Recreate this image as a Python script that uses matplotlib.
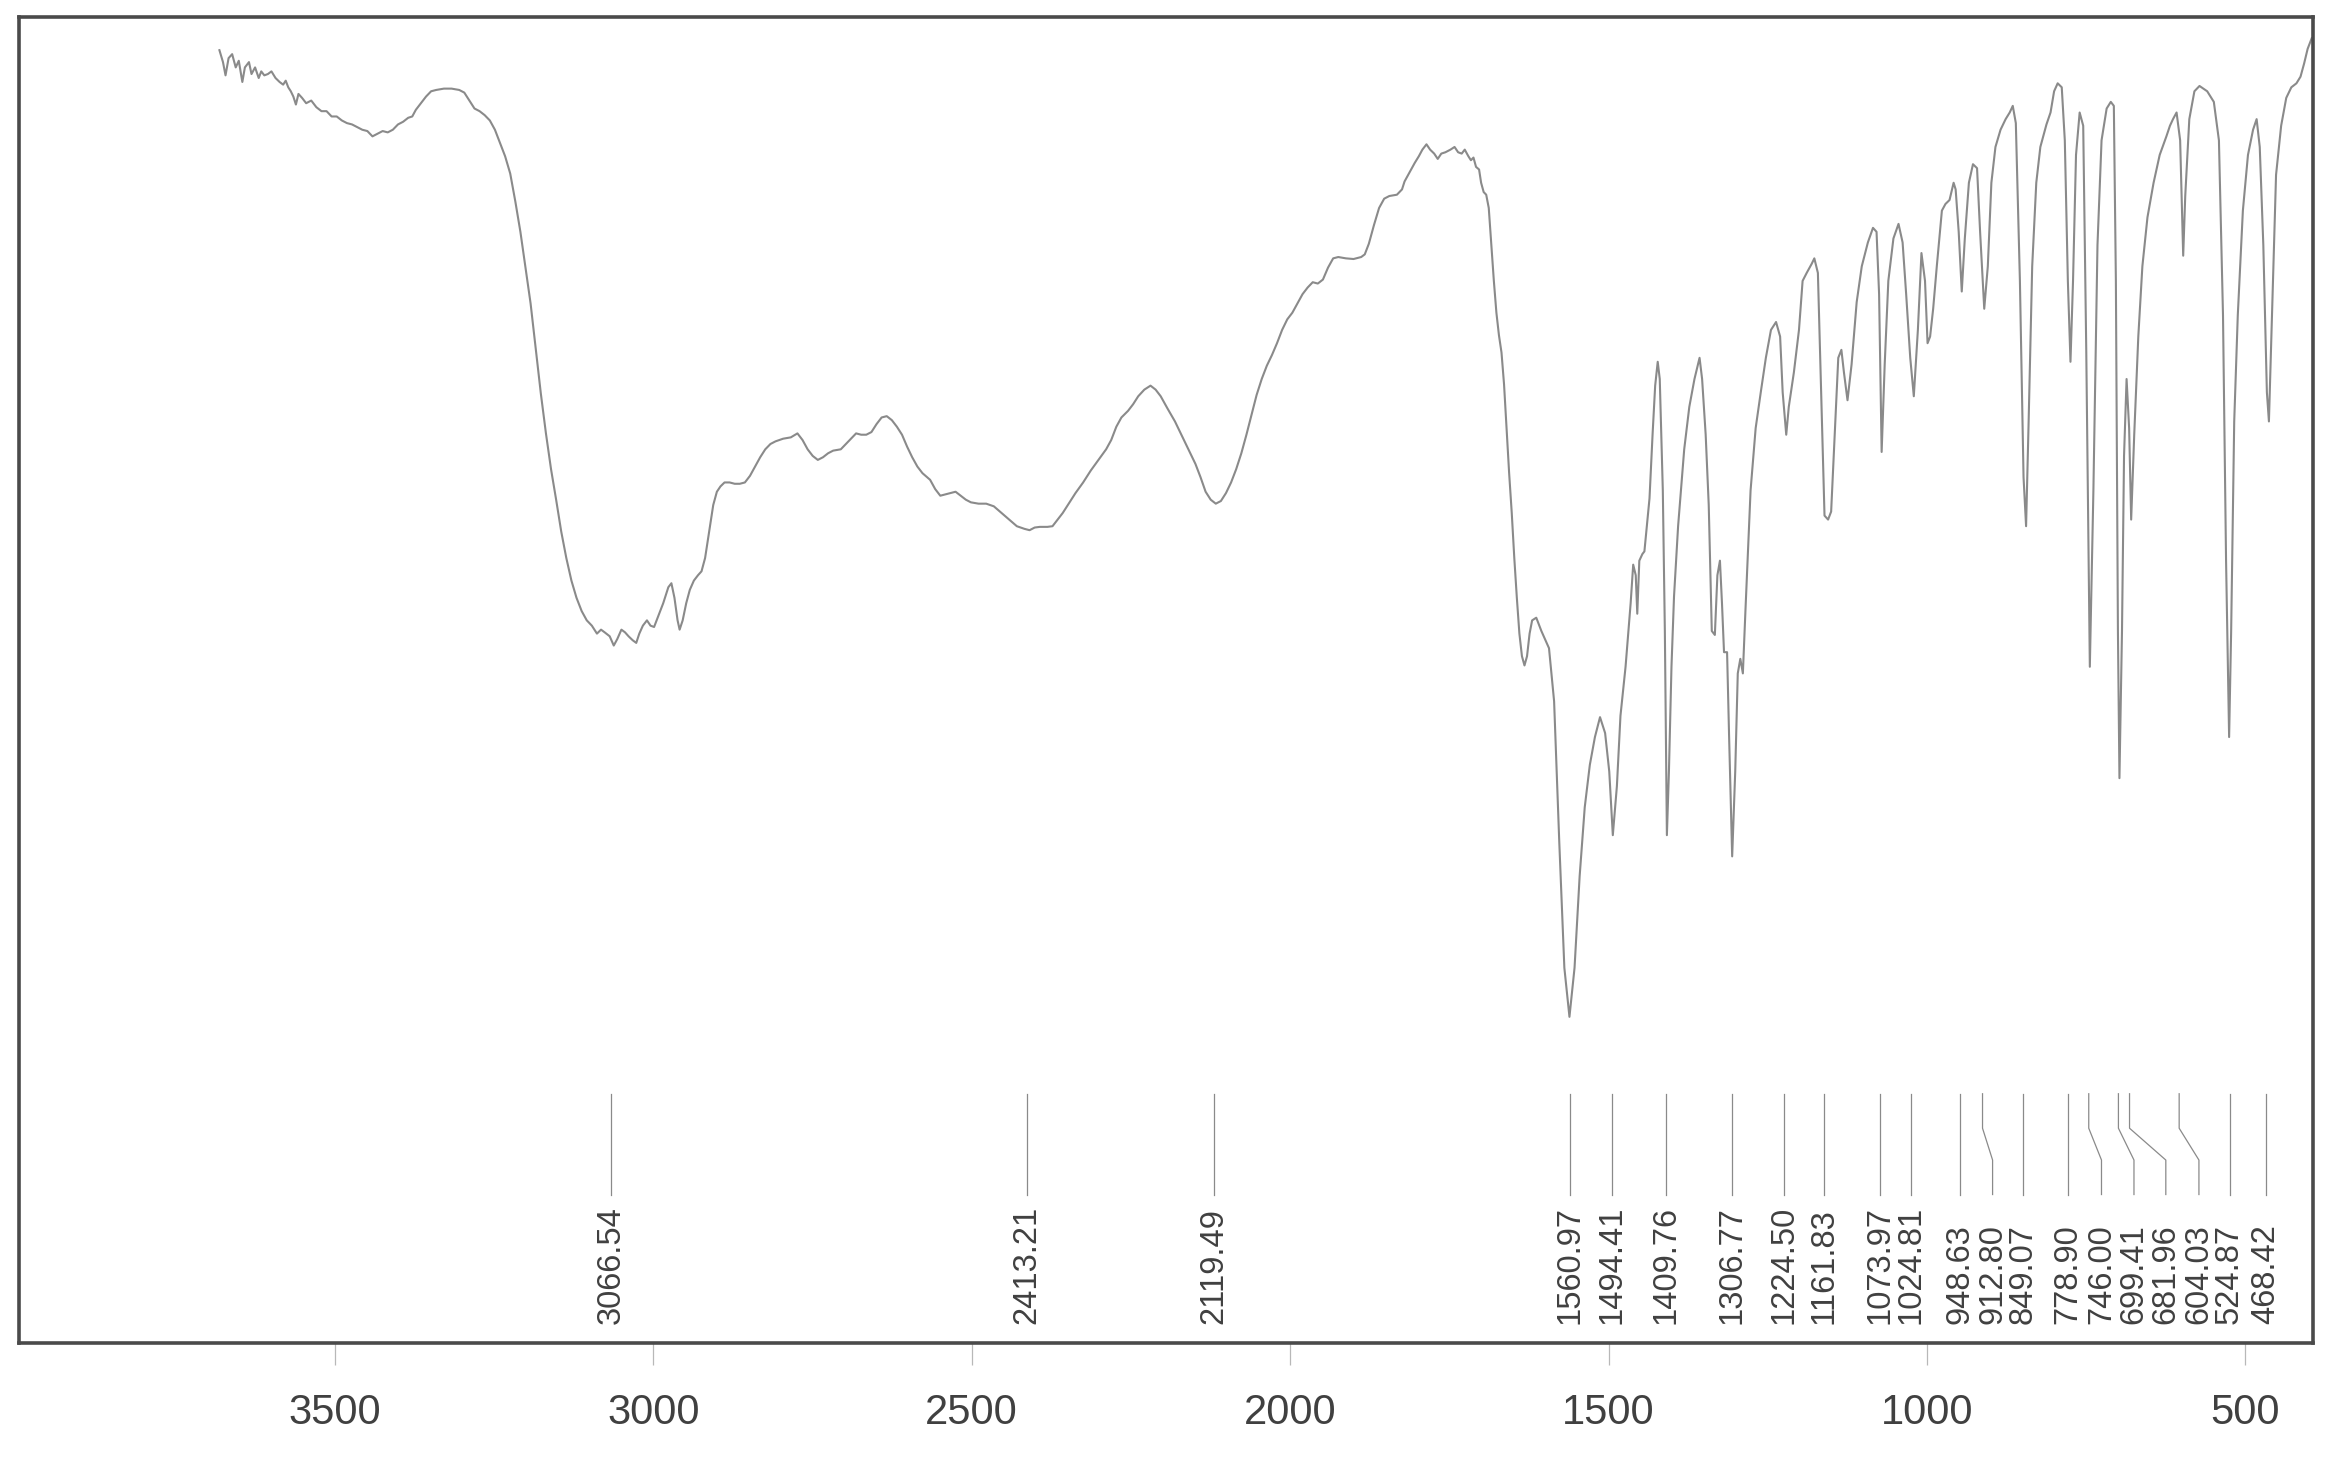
"""FT-IR spectrum with picked peaks, redrawn from a scanned instrument printout."""
import matplotlib
matplotlib.use("Agg")
import matplotlib.pyplot as plt

# wavenumber (cm-1) and transmittance (arbitrary %, 0 = frame bottom, 100 = frame top)
wavenumber = [
    3681.2, 3675.6, 3671.6, 3666.8, 3661.2, 3655.6, 3650.8, 3645.2, 3641.2, 3634.8,
    3630.8, 3625.2, 3619.5, 3615.5, 3610.7, 3605.1, 3599.5, 3593.1, 3586.7, 3581.1,
    3577.1, 3573.1, 3569.1, 3565.1, 3561.1, 3557.1, 3551.4, 3545.0, 3537.0, 3529.0,
    3521.0, 3513.0, 3505.0, 3497.0, 3489.0, 3481.0, 3473.0, 3464.9, 3456.9, 3448.9,
    3440.9, 3432.9, 3424.9, 3416.9, 3408.9, 3400.8, 3392.8, 3384.8, 3378.4, 3372.8,
    3364.8, 3356.8, 3348.8, 3340.8, 3328.7, 3316.7, 3304.7, 3296.7, 3288.7, 3280.7,
    3272.7, 3264.7, 3256.6, 3248.6, 3240.6, 3232.6, 3224.6, 3216.6, 3208.6, 3200.6,
    3192.6, 3184.5, 3176.5, 3168.5, 3160.5, 3152.5, 3144.5, 3136.5, 3128.5, 3120.5,
    3112.4, 3104.4, 3096.4, 3088.4, 3082.0, 3076.4, 3068.4, 3062.0, 3056.4, 3050.0,
    3044.4, 3038.8, 3032.3, 3026.7, 3021.9, 3016.3, 3009.9, 3004.3, 2998.7, 2992.3,
    2984.3, 2976.3, 2971.5, 2966.7, 2961.8, 2958.6, 2953.8, 2948.2, 2942.6, 2936.2,
    2929.8, 2924.2, 2918.6, 2912.2, 2905.8, 2900.1, 2894.5, 2888.1, 2880.1, 2872.1,
    2864.1, 2856.1, 2848.1, 2840.1, 2832.1, 2824.1, 2816.0, 2808.0, 2796.0, 2784.0,
    2773.6, 2765.6, 2757.6, 2749.6, 2741.6, 2733.5, 2725.5, 2717.5, 2705.5, 2697.5,
    2689.5, 2681.5, 2673.5, 2665.5, 2657.4, 2649.4, 2641.4, 2633.4, 2625.4, 2617.4,
    2609.4, 2601.4, 2593.4, 2585.3, 2577.3, 2565.3, 2557.3, 2549.3, 2541.3, 2533.3,
    2525.3, 2517.2, 2509.2, 2501.2, 2489.2, 2477.2, 2465.2, 2453.2, 2441.1, 2429.1,
    2417.1, 2409.1, 2401.1, 2393.1, 2381.1, 2373.1, 2365.0, 2357.0, 2349.0, 2337.0,
    2325.0, 2313.0, 2300.9, 2288.9, 2280.9, 2272.9, 2264.9, 2254.5, 2246.5, 2238.5,
    2228.9, 2219.2, 2211.2, 2203.2, 2192.8, 2180.8, 2168.8, 2156.7, 2148.7, 2140.7,
    2132.7, 2124.7, 2116.7, 2108.7, 2100.7, 2092.7, 2084.7, 2076.6, 2068.6, 2060.6,
    2052.6, 2044.6, 2036.6, 2028.6, 2020.6, 2012.6, 2004.5, 1996.5, 1988.5, 1980.5,
    1972.5, 1964.5, 1956.5, 1948.5, 1940.5, 1932.4, 1924.4, 1912.4, 1900.4, 1888.4,
    1882.8, 1876.4, 1868.4, 1860.3, 1852.3, 1844.3, 1832.3, 1824.3, 1820.3, 1812.3,
    1804.3, 1797.9, 1792.3, 1785.9, 1780.2, 1773.8, 1768.2, 1762.6, 1756.2, 1748.2,
    1741.8, 1736.2, 1730.6, 1725.8, 1720.1, 1716.1, 1712.1, 1708.1, 1703.3, 1700.1,
    1696.1, 1692.1, 1688.1, 1684.1, 1680.1, 1676.1, 1672.1, 1668.1, 1664.1, 1660.1,
    1656.1, 1652.0, 1648.0, 1644.0, 1640.0, 1636.0, 1632.0, 1628.0, 1624.0, 1620.0,
    1613.5, 1605.5, 1593.5, 1585.5, 1577.4, 1569.4, 1561.4, 1553.4, 1545.4, 1537.4,
    1529.4, 1521.4, 1513.4, 1505.4, 1498.9, 1493.3, 1486.9, 1481.3, 1473.3, 1465.3,
    1461.3, 1457.3, 1454.9, 1451.7, 1446.9, 1443.7, 1438.9, 1435.7, 1430.9, 1426.8,
    1422.8, 1419.6, 1414.8, 1411.6, 1408.4, 1405.2, 1401.2, 1397.2, 1390.8, 1381.2,
    1373.2, 1365.1, 1357.1, 1353.1, 1347.5, 1342.7, 1337.9, 1333.1, 1329.1, 1325.1,
    1321.9, 1318.7, 1313.9, 1310.7, 1305.9, 1301.1, 1297.1, 1293.1, 1289.1, 1285.0,
    1277.0, 1269.0, 1261.0, 1253.0, 1245.0, 1237.0, 1230.6, 1226.6, 1221.0, 1217.0,
    1209.0, 1201.0, 1195.3, 1188.9, 1180.9, 1176.9, 1171.3, 1166.5, 1160.9, 1155.3,
    1150.5, 1144.9, 1139.3, 1134.4, 1130.4, 1124.8, 1118.4, 1110.4, 1102.4, 1092.8,
    1084.8, 1079.2, 1075.2, 1071.2, 1066.4, 1060.7, 1052.7, 1044.7, 1038.3, 1032.7,
    1026.3, 1020.7, 1014.3, 1008.7, 1003.1, 999.1, 995.1, 990.3, 984.6, 976.6,
    971.0, 964.6, 958.2, 955.0, 950.2, 945.4, 940.6, 934.2, 927.8, 921.4,
    916.6, 910.1, 904.5, 898.9, 892.5, 884.5, 876.5, 870.1, 865.3, 860.5,
    854.1, 848.4, 844.4, 840.4, 834.8, 828.4, 822.0, 816.4, 812.4, 806.0,
    800.4, 794.8, 788.4, 783.6, 778.8, 774.7, 770.7, 766.0, 760.3, 754.7,
    749.9, 744.3, 738.7, 732.3, 725.9, 717.9, 711.4, 706.6, 703.4, 700.2,
    697.8, 693.8, 690.6, 686.6, 682.6, 679.4, 674.6, 668.2, 661.8, 653.8,
    644.2, 634.6, 624.1, 618.5, 613.7, 608.1, 602.5, 597.7, 594.5, 588.1,
    580.1, 572.1, 560.0, 549.6, 541.6, 535.2, 530.4, 525.6, 522.4, 517.6,
    512.0, 504.0, 496.0, 488.0, 482.4, 477.5, 471.9, 466.3, 463.1, 458.3,
    451.9, 443.9, 435.9, 427.9, 419.9, 413.5, 407.8, 402.3, 395.9,
]
transmittance = [
    97.5, 96.6, 95.6, 96.9, 97.2, 96.2, 96.7, 95.1, 96.2, 96.6,
    95.7, 96.2, 95.4, 95.9, 95.6, 95.7, 95.9, 95.4, 95.1, 94.9,
    95.2, 94.7, 94.4, 94.0, 93.4, 94.2, 93.9, 93.5, 93.7, 93.2,
    92.9, 92.9, 92.5, 92.5, 92.2, 92.0, 91.9, 91.7, 91.5, 91.4,
    91.0, 91.2, 91.4, 91.3, 91.5, 91.9, 92.1, 92.4, 92.5, 93.0,
    93.5, 94.0, 94.4, 94.5, 94.6, 94.6, 94.5, 94.3, 93.7, 93.1,
    92.9, 92.6, 92.2, 91.5, 90.5, 89.5, 88.2, 86.1, 83.8, 81.1,
    78.4, 75.0, 71.6, 68.6, 65.9, 63.6, 61.2, 59.2, 57.5, 56.2,
    55.2, 54.5, 54.1, 53.5, 53.8, 53.6, 53.3, 52.6, 53.1, 53.8,
    53.6, 53.3, 53.0, 52.8, 53.5, 54.1, 54.5, 54.1, 54.0, 54.8,
    55.8, 57.0, 57.3, 56.2, 54.5, 53.8, 54.5, 55.8, 56.8, 57.5,
    57.9, 58.2, 59.2, 61.2, 63.2, 64.2, 64.6, 64.9, 64.9, 64.8,
    64.8, 64.9, 65.4, 66.1, 66.8, 67.4, 67.8, 68.0, 68.2, 68.3,
    68.6, 68.1, 67.4, 66.9, 66.6, 66.8, 67.1, 67.3, 67.4, 67.8,
    68.2, 68.6, 68.5, 68.5, 68.7, 69.3, 69.8, 69.9, 69.6, 69.1,
    68.5, 67.6, 66.8, 66.1, 65.6, 65.1, 64.4, 63.9, 64.0, 64.1,
    64.2, 63.9, 63.6, 63.4, 63.3, 63.3, 63.1, 62.6, 62.1, 61.6,
    61.4, 61.3, 61.5, 61.55, 61.55, 61.6, 62.1, 62.6, 63.2, 64.1,
    64.9, 65.8, 66.6, 67.4, 68.1, 69.1, 69.8, 70.3, 70.8, 71.4,
    71.9, 72.2, 71.9, 71.4, 70.5, 69.5, 68.3, 67.1, 66.3, 65.3,
    64.2, 63.6, 63.3, 63.5, 64.1, 64.9, 65.9, 67.1, 68.5, 70.0,
    71.5, 72.7, 73.7, 74.5, 75.4, 76.4, 77.2, 77.7, 78.4, 79.1,
    79.6, 80.0, 79.9, 80.2, 81.1, 81.8, 81.9, 81.8, 81.75, 81.9,
    82.1, 82.9, 84.3, 85.6, 86.3, 86.5, 86.6, 87.0, 87.6, 88.3,
    89.0, 89.5, 90.0, 90.4, 90.0, 89.7, 89.3, 89.7, 89.8, 90.0,
    90.2, 89.8, 89.7, 90.0, 89.5, 89.2, 89.4, 88.7, 88.5, 87.5,
    86.8, 86.6, 85.6, 82.8, 80.1, 77.7, 76.0, 74.7, 72.3, 69.0,
    65.6, 62.6, 59.2, 56.2, 53.5, 51.8, 51.1, 51.8, 53.5, 54.5,
    54.7, 53.7, 52.4, 48.4, 37.8, 28.3, 24.6, 28.3, 35.2, 40.4,
    43.6, 45.7, 47.2, 46.0, 43.1, 38.3, 42.0, 47.3, 51.0, 55.8,
    58.7, 57.9, 55.0, 59.0, 59.5, 59.7, 62.1, 63.7, 68.5, 72.2,
    74.0, 72.7, 64.3, 53.7, 38.3, 43.1, 51.0, 56.3, 61.6, 67.4,
    70.6, 72.7, 74.3, 72.7, 68.5, 63.2, 53.7, 53.4, 57.9, 59.0,
    55.8, 52.1, 52.1, 45.7, 36.7, 43.1, 50.5, 51.6, 50.5, 55.3,
    64.3, 69.0, 71.7, 74.3, 76.4, 77.0, 75.9, 71.7, 68.5, 70.6,
    73.2, 76.4, 80.1, 80.7, 81.4, 81.8, 80.7, 72.2, 62.4, 62.1,
    62.7, 68.5, 74.3, 74.9, 73.2, 71.1, 73.8, 78.5, 81.2, 83.0,
    84.1, 83.8, 79.1, 67.2, 73.8, 80.1, 83.3, 84.4, 83.0, 79.1,
    74.3, 71.4, 76.4, 82.2, 80.1, 75.4, 75.9, 78.0, 81.2, 85.4,
    85.9, 86.2, 87.5, 87.0, 83.8, 79.3, 83.3, 87.5, 88.9, 88.6,
    83.8, 78.0, 81.2, 87.5, 90.2, 91.5, 92.3, 92.8, 93.3, 92.0,
    80.1, 65.3, 61.6, 69.5, 81.2, 87.5, 90.2, 91.2, 91.9, 92.8,
    94.4, 95.0, 94.7, 90.7, 80.1, 74.0, 80.1, 89.6, 92.8, 91.8,
    74.8, 51.0, 64.3, 82.8, 90.7, 93.1, 93.6, 93.3, 80.1, 53.7,
    42.6, 53.7, 66.9, 72.7, 69.0, 62.1, 68.5, 75.9, 81.2, 84.9,
    87.5, 89.6, 91.0, 91.8, 92.3, 92.8, 90.7, 82.0, 86.5, 92.3,
    94.4, 94.8, 94.4, 93.6, 90.7, 77.5, 59.0, 45.7, 53.7, 69.5,
    77.5, 85.4, 89.6, 91.5, 92.3, 90.2, 82.8, 71.7, 69.5, 77.5,
    88.1, 91.8, 93.9, 94.7, 95.0, 95.5, 96.5, 97.6, 98.4,
]

# picked peaks and where the printout puts their labels (crowded ones are shifted)
peak_wn = [3066.54, 2413.21, 2119.49, 1560.97, 1494.41, 1409.76, 1306.77, 1224.50,
           1161.83, 1073.97, 1024.81, 948.63, 912.80, 849.07, 778.90, 746.00,
           699.41, 681.96, 604.03, 524.87, 468.42]
label_wn = [3066.54, 2413.21, 2119.49, 1560.97, 1494.41, 1409.76, 1306.77, 1224.50,
            1161.83, 1073.97, 1024.81, 948.63, 897.0, 849.07, 778.90, 726.0,
            675.0, 625.0, 573.0, 524.87, 468.42]
x_ticks = [3500, 3000, 2500, 2000, 1500, 1000, 500]

LINE = "#8a8a8a"
FRAME = "#4a4a4a"
TEXT = "#404040"

fig = plt.figure(figsize=(23.37, 14.67), dpi=100)
ax = fig.add_axes([0.0081, 0.0845, 0.9816, 0.9039])

ax.plot(wavenumber, transmittance, color=LINE, lw=1.5)

# peak markers: straight stems, kinked ones jog over to the shifted label
y_top, y_k1, y_k2, y_bot = 18.8, 16.2, 13.8, 11.2
for p, lab in zip(peak_wn, label_wn):
    if abs(p - lab) < 0.5:
        ax.plot([p, p], [y_top, y_bot], color="#8a8a8a", lw=0.9)
    else:
        ax.plot([p, p, lab, lab], [y_top, y_k1, y_k2, y_bot], color="#8a8a8a", lw=0.9)
    ax.text(lab, 1.4, f"{p:.2f}", rotation=90, ha="center", va="bottom",
            fontsize=23.5, color=TEXT, family="Liberation Sans")

ax.set_xlim(3996, 394)
ax.set_ylim(0, 100)
ax.set_xticks(x_ticks)
ax.set_xticklabels([str(t) for t in x_ticks], fontsize=30, color=TEXT,
                   family="Liberation Sans")
ax.tick_params(axis="x", direction="out", length=16, width=0.9, color="#b8b8b8", pad=20)
ax.set_yticks([])
for s in ax.spines.values():
    s.set_color(FRAME)
    s.set_linewidth(2.6)

fig.savefig("out.png", dpi=100)
